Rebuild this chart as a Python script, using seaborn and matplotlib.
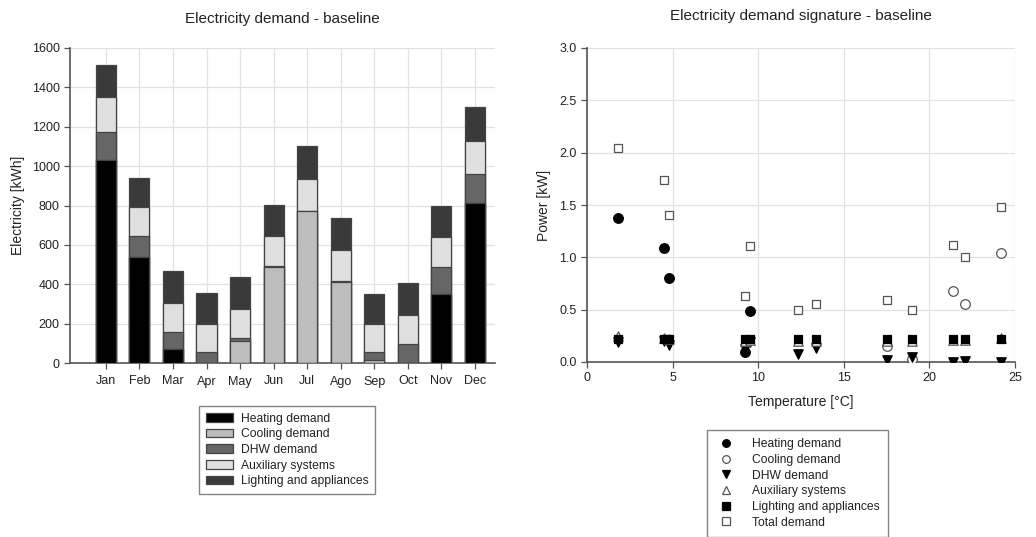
import numpy as np
import matplotlib
matplotlib.use("Agg")
import matplotlib.pyplot as plt
import seaborn as sns
from matplotlib.patches import Patch
from matplotlib.lines import Line2D

# ---------------- data ----------------
months = ["Jan", "Feb", "Mar", "Apr", "May", "Jun", "Jul", "Ago", "Sep", "Oct", "Nov", "Dec"]
heating = [1030, 540, 73, 0, 0, 0, 0, 0, 0, 2, 353, 811]
cooling = [0, 0, 0, 0, 112, 490, 770, 412, 17, 0, 0, 0]
dhw = [142, 107, 87, 56, 15, 3, 3, 6, 39, 96, 136, 149]
auxiliary = [180, 145, 147, 144, 146, 154, 164, 156, 141, 145, 151, 170]
lighting = [162, 150, 161, 156, 163, 157, 166, 162, 156, 164, 158, 168]

series_names = ["Heating demand", "Cooling demand", "DHW demand",
                "Auxiliary systems", "Lighting and appliances"]
bar_colors = ["#000000", "#bdbdbd", "#666666", "#e0e0e0", "#3a3a3a"]

# demand signature (monthly mean power vs monthly mean temperature)
temperature = [1.8, 4.8, 9.2, 12.3, 17.5, 21.4, 24.2, 22.1, 19.0, 13.4, 9.5, 4.5]
p_heating = [1.38, 0.80, 0.10, np.nan, np.nan, np.nan, np.nan, np.nan, np.nan, np.nan, 0.49, 1.09]
p_cooling = [np.nan, np.nan, np.nan, np.nan, 0.15, 0.68, 1.04, 0.55, 0.03, np.nan, np.nan, np.nan]
p_dhw = [0.19, 0.16, 0.12, 0.08, 0.02, 0.0, 0.0, 0.01, 0.05, 0.13, 0.19, 0.20]
p_aux = [0.25, 0.22, 0.20, 0.20, 0.20, 0.21, 0.23, 0.21, 0.20, 0.20, 0.21, 0.23]
p_lighting = [0.22, 0.22, 0.22, 0.22, 0.22, 0.22, 0.22, 0.22, 0.22, 0.22, 0.22, 0.22]
p_total = [2.04, 1.40, 0.63, 0.50, 0.59, 1.12, 1.48, 1.00, 0.50, 0.55, 1.11, 1.74]

# ---------------- style ----------------
sns.set_theme(style="whitegrid")
plt.rcParams["font.family"] = ["Liberation Sans", "DejaVu Sans"]
TXT = "#222222"
GRID = "#e2e2e2"
SPINE = "#555555"

fig = plt.figure(figsize=(10.36, 5.37), dpi=100)
W, H = 1036, 537
ax1 = fig.add_axes([70 / W, (H - 363) / H, 425 / W, 315 / H])
ax2 = fig.add_axes([587 / W, (H - 362) / H, 428 / W, 314 / H])

# ---------------- left: stacked bars ----------------
layers = [heating, cooling, dhw, auxiliary, lighting]
cum = np.cumsum(np.array(layers, dtype=float), axis=0)
for i in range(len(layers) - 1, -1, -1):
    sns.barplot(x=months, y=cum[i], ax=ax1, color=bar_colors[i], saturation=1,
                width=0.6, edgecolor="#444444", linewidth=0.9, zorder=3)

ax1.set_xlim(-1.07, 11.6)
ax1.set_ylim(0, 1600)
ax1.set_yticks(range(0, 1601, 200))
ax1.set_title("Electricity demand - baseline", fontsize=11, color=TXT, pad=18)
ax1.set_ylabel("Electricity [kWh]", fontsize=10, color=TXT, labelpad=5)
ax1.set_xlabel("")

# ---------------- right: scatter ----------------
sc_specs = [
    (p_heating, "Heating demand", "o", "black", "black", 48),
    (p_cooling, "Cooling demand", "o", "white", "#555555", 48),
    (p_dhw, "DHW demand", "v", "black", "black", 46),
    (p_aux, "Auxiliary systems", "^", "white", "#555555", 46),
    (p_lighting, "Lighting and appliances", "s", "black", "black", 38),
    (p_total, "Total demand", "s", "white", "#555555", 38),
]
handles2 = []
for vals, name, mk, fc, ec, s in sc_specs:
    sns.scatterplot(x=temperature, y=vals, ax=ax2, marker=mk, s=s,
                    color=fc, edgecolor=ec, linewidth=0.9, zorder=4, legend=False)
    handles2.append(Line2D([], [], linestyle="none", marker=mk, markersize=5.5,
                           markerfacecolor=fc, markeredgecolor=ec, markeredgewidth=0.9,
                           label=name))

ax2.set_xlim(0, 25)
ax2.set_ylim(0, 3)
ax2.set_xticks(range(0, 26, 5))
ax2.set_yticks(np.arange(0, 3.01, 0.5))
ax2.yaxis.set_major_formatter(matplotlib.ticker.FormatStrFormatter("%.1f"))
ax2.set_title("Electricity demand signature - baseline", fontsize=11, color=TXT, pad=20)
ax2.set_xlabel("Temperature [°C]", fontsize=10, color=TXT, labelpad=8)
ax2.set_ylabel("Power [kW]", fontsize=10, color=TXT, labelpad=6)

for ax in (ax1, ax2):
    ax.grid(True, color=GRID, linewidth=0.9, zorder=0)
    ax.set_axisbelow(True)
    for side in ("top", "right"):
        ax.spines[side].set_visible(False)
    for side in ("left", "bottom"):
        ax.spines[side].set_visible(True)
        ax.spines[side].set_color(SPINE)
        ax.spines[side].set_linewidth(1.2)
    ax.tick_params(axis="both", labelsize=9, labelcolor=TXT, colors=SPINE,
                   length=4, width=0.9, direction="out", left=True, bottom=True)
ax1.tick_params(axis="x", pad=5)
ax2.tick_params(axis="x", pad=3)

# ---------------- legends ----------------
handles1 = [Patch(facecolor=c, edgecolor="#444444", linewidth=0.9, label=n)
            for c, n in zip(bar_colors, series_names)]
leg1 = fig.legend(handles=handles1, loc="upper left",
                  bbox_to_anchor=(199 / W, 1 - 406 / H), fontsize=8.7,
                  frameon=True, fancybox=False, edgecolor="#666666",
                  handlelength=2.3, handleheight=0.75, handletextpad=0.6,
                  labelspacing=0.3, borderpad=0.55, borderaxespad=0)
leg1.get_frame().set_linewidth(1.0)
for t in leg1.get_texts():
    t.set_color(TXT)

leg2 = fig.legend(handles=handles2, loc="upper left",
                  bbox_to_anchor=(707 / W, 1 - 430 / H), fontsize=8.7,
                  frameon=True, fancybox=False, edgecolor="#666666",
                  handlelength=1.8, handletextpad=1.2,
                  labelspacing=0.3, borderpad=0.7, borderaxespad=0)
leg2.get_frame().set_linewidth(1.0)
for t in leg2.get_texts():
    t.set_color(TXT)

fig.savefig("out.png", dpi=100, facecolor="white")
